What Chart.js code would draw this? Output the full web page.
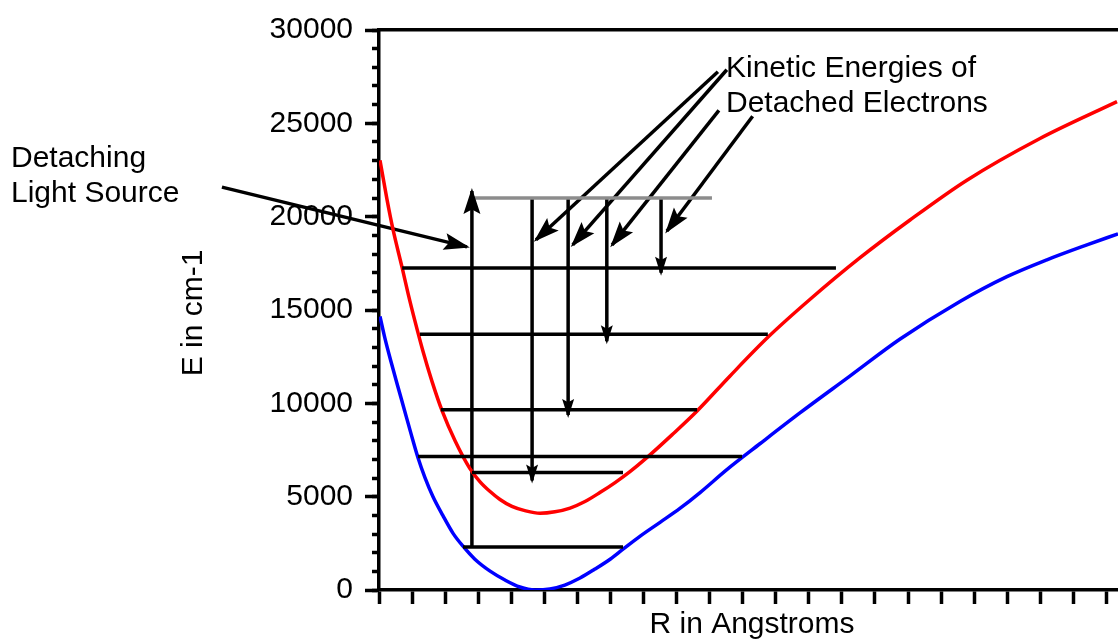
<!DOCTYPE html>
<html>
<head>
<meta charset="utf-8">
<title>Photodetachment</title>
<script src="https://cdn.jsdelivr.net/npm/chart.js@4.4.1/dist/chart.umd.min.js"></script>
<style>
  html, body { margin: 0; padding: 0; background: #fff; }
  canvas { display: block; }
</style>
</head>
<body>
<canvas id="pes" width="1118" height="640"></canvas>
<script>
// R is in tick units along the bottom axis, E in cm-1
var neutralR = [0.03, 0.24, 0.42, 0.70, 0.88, 1.09, 1.33, 1.60, 1.91, 2.30, 2.75, 3.05, 3.36, 3.66, 4.02, 4.41, 4.87,
  5.32, 5.78, 6.23, 6.68, 7.14, 7.59, 8.10, 8.86, 9.62, 10.61, 11.76, 13.03, 14.55, 16.06, 17.78, 19.99, 22.32];
var neutralE = [23020, 20940, 19340, 17265, 15880, 14390, 12790, 11190, 9590, 7990, 6500, 5810, 5275, 4850, 4475, 4250, 4110,
  4190, 4390, 4740, 5220, 5755, 6340, 7090, 8310, 9590, 11455, 13535, 15560, 17800, 19820, 21955, 24190, 26165];

var anionR = [0.03, 0.18, 0.36, 0.54, 0.76, 0.97, 1.18, 1.39, 1.63, 1.93, 2.24, 2.54, 2.90, 3.36, 3.81, 4.26, 4.72,
  5.17, 5.62, 6.08, 6.53, 6.99, 7.38, 7.89, 8.50, 9.10, 9.71, 10.52, 11.52, 12.73, 14.24, 15.75, 17.57, 18.99, 20.20,
  21.41, 22.35];
var anionE = [14655, 13480, 12255, 11085, 9700, 8365, 7085, 6020, 5010, 3995, 3035, 2345, 1650, 1010, 535, 160, 0,
  55, 265, 640, 1120, 1650, 2185, 2875, 3625, 4370, 5220, 6450, 7835, 9485, 11455, 13430, 15455, 16785, 17690,
  18490, 19080];

// vibrational levels; the first one is the photon energy
var levelE    = [21000, 17250, 13700, 9650, 7150, 6300, 2300];
var levelFrom = [2.75, 0.70, 1.24, 1.87, 1.18, 2.81, 2.54];
var levelTo   = [10.07, 13.82, 11.76, 9.62, 10.98, 7.38, 7.38];

// photon arrow up from v=0 of the anion
var photonR = 2.81;
var photonE = [2300, 21370];

// arrows down from the photon energy to neutral levels
var dropR  = [4.63, 5.72, 6.89, 8.53];
var dropTo = [5860, 9380, 13320, 17000];

// pointers from the "Kinetic Energies" caption
var keFromR = [10.25, 10.52, 10.28, 11.30];
var keFromE = [27760, 27870, 25690, 25380];
var keToR   = [4.75, 5.86, 7.05, 8.71];
var keToE   = [18760, 18490, 18490, 19230];

// pointer from the "Detaching Light Source" caption
var lightR = [-4.75, 2.66];
var lightE = [21580, 18380];

var FONT = "'Liberation Sans', Arial, Helvetica, sans-serif";
Chart.defaults.font.family = FONT;

function zip(xs, ys) {
  return xs.map(function(x, i) { return { x: x, y: ys[i] }; });
}

function segment(pts, color, head) {
  return {
    data: pts,
    showLine: true,
    borderColor: color || '#000',
    borderWidth: 3.5,
    pointRadius: 0,
    clip: false,
    head: head
  };
}

function curve(xs, ys, color) {
  return {
    data: zip(xs, ys),
    showLine: true,
    borderColor: color,
    borderWidth: 3.5,
    pointRadius: 0,
    cubicInterpolationMode: 'monotone'
  };
}

var datasets = [];
levelE.forEach(function(e, i) {
  datasets.push(segment([{ x: levelFrom[i], y: e }, { x: levelTo[i], y: e }], i === 0 ? '#8c8c8c' : '#000'));
});
datasets.push(curve(neutralR, neutralE, '#ff0000'));
datasets.push(curve(anionR, anionE, '#0000ff'));
datasets.push(segment([{ x: photonR, y: photonE[0] }, { x: photonR, y: photonE[1] }], '#000', 'big'));
dropR.forEach(function(r, i) {
  datasets.push(segment([{ x: r, y: levelE[0] }, { x: r, y: dropTo[i] }], '#000', 'small'));
});
keFromR.forEach(function(r, i) {
  datasets.push(segment([{ x: r, y: keFromE[i] }, { x: keToR[i], y: keToE[i] }], '#000', 'big'));
});
datasets.push(segment(zip(lightR, lightE), '#000', 'big'));

// dart shaped heads at the last point of a segment
var arrowHeads = {
  id: 'arrowHeads',
  afterDatasetsDraw: function(chart) {
    var ctx = chart.ctx;
    chart.data.datasets.forEach(function(ds, i) {
      if (!ds.head) return;
      var pts = chart.getDatasetMeta(i).data;
      var a = pts[pts.length - 2], b = pts[pts.length - 1];
      var dx = b.x - a.x, dy = b.y - a.y;
      var len = Math.sqrt(dx * dx + dy * dy);
      var ux = dx / len, uy = dy / len;
      var L = ds.head === 'big' ? 26 : 19;
      var W = ds.head === 'big' ? 8.5 : 6;
      var tx = b.x + ux * 3, ty = b.y + uy * 3;
      ctx.save();
      ctx.fillStyle = '#000';
      ctx.beginPath();
      ctx.moveTo(tx, ty);
      ctx.lineTo(tx - ux * L - uy * W, ty - uy * L + ux * W);
      ctx.lineTo(tx - ux * L * 0.82, ty - uy * L * 0.82);
      ctx.lineTo(tx - ux * L + uy * W, ty - uy * L - ux * W);
      ctx.closePath();
      ctx.fill();
      ctx.restore();
    });
  }
};

var captions = {
  id: 'captions',
  afterDraw: function(chart) {
    var ctx = chart.ctx;
    var area = chart.chartArea;
    ctx.save();
    ctx.fillStyle = '#000';
    ctx.font = '30px ' + FONT;
    ctx.textBaseline = 'alphabetic';
    ctx.textAlign = 'left';
    ctx.fillText('Detaching', 11, 167);
    ctx.fillText('Light Source', 11, 202);
    ctx.fillText('Kinetic Energies of', 726, 77);
    ctx.fillText('Detached Electrons', 726, 112);
    ctx.textAlign = 'center';
    ctx.fillText('R in Angstroms', 752, 633);
    ctx.translate(202, (area.top + area.bottom) / 2 + 3);
    ctx.rotate(-Math.PI / 2);
    ctx.fillText('E in cm-1', 0, 0);
    ctx.restore();
  }
};

new Chart(document.getElementById('pes'), {
  type: 'scatter',
  data: { datasets: datasets },
  plugins: [arrowHeads, captions],
  options: {
    responsive: false,
    animation: false,
    layout: { padding: { top: 27, left: 0, right: 0, bottom: 0 } },
    plugins: { legend: { display: false }, tooltip: { enabled: false } },
    scales: {
      x: {
        type: 'linear', min: 0, max: 22.35,
        ticks: { display: false, stepSize: 1, includeBounds: false },
        grid: { drawOnChartArea: false, tickLength: 14, tickWidth: 3.5, tickColor: '#000' },
        border: { width: 3.5, color: '#000' },
        afterFit: function(s) { s.height = 50; }
      },
      xTop: {
        type: 'linear', position: 'top', min: 0, max: 22.35,
        ticks: { display: false },
        grid: { display: false },
        border: { width: 3.5, color: '#000' },
        afterFit: function(s) { s.height = 0; }
      },
      y: {
        min: 0, max: 30000, weight: 1,
        ticks: {
          stepSize: 5000, padding: 12, color: '#000', font: { size: 30 },
          callback: function(v) { return String(v); }
        },
        grid: { drawOnChartArea: false, tickLength: 14, tickWidth: 3.5, tickColor: '#000' },
        border: { width: 3.5, color: '#000' },
        afterFit: function(s) { s.width = 379; }
      },
      yMinor: {
        position: 'left', min: 0, max: 30000, weight: 0,
        ticks: { display: false, stepSize: 1000 },
        grid: { drawOnChartArea: false, tickLength: 7, tickWidth: 3.5, tickColor: '#000' },
        border: { display: false },
        afterFit: function(s) { s.width = 0; }
      }
    }
  }
});
</script>
</body>
</html>
